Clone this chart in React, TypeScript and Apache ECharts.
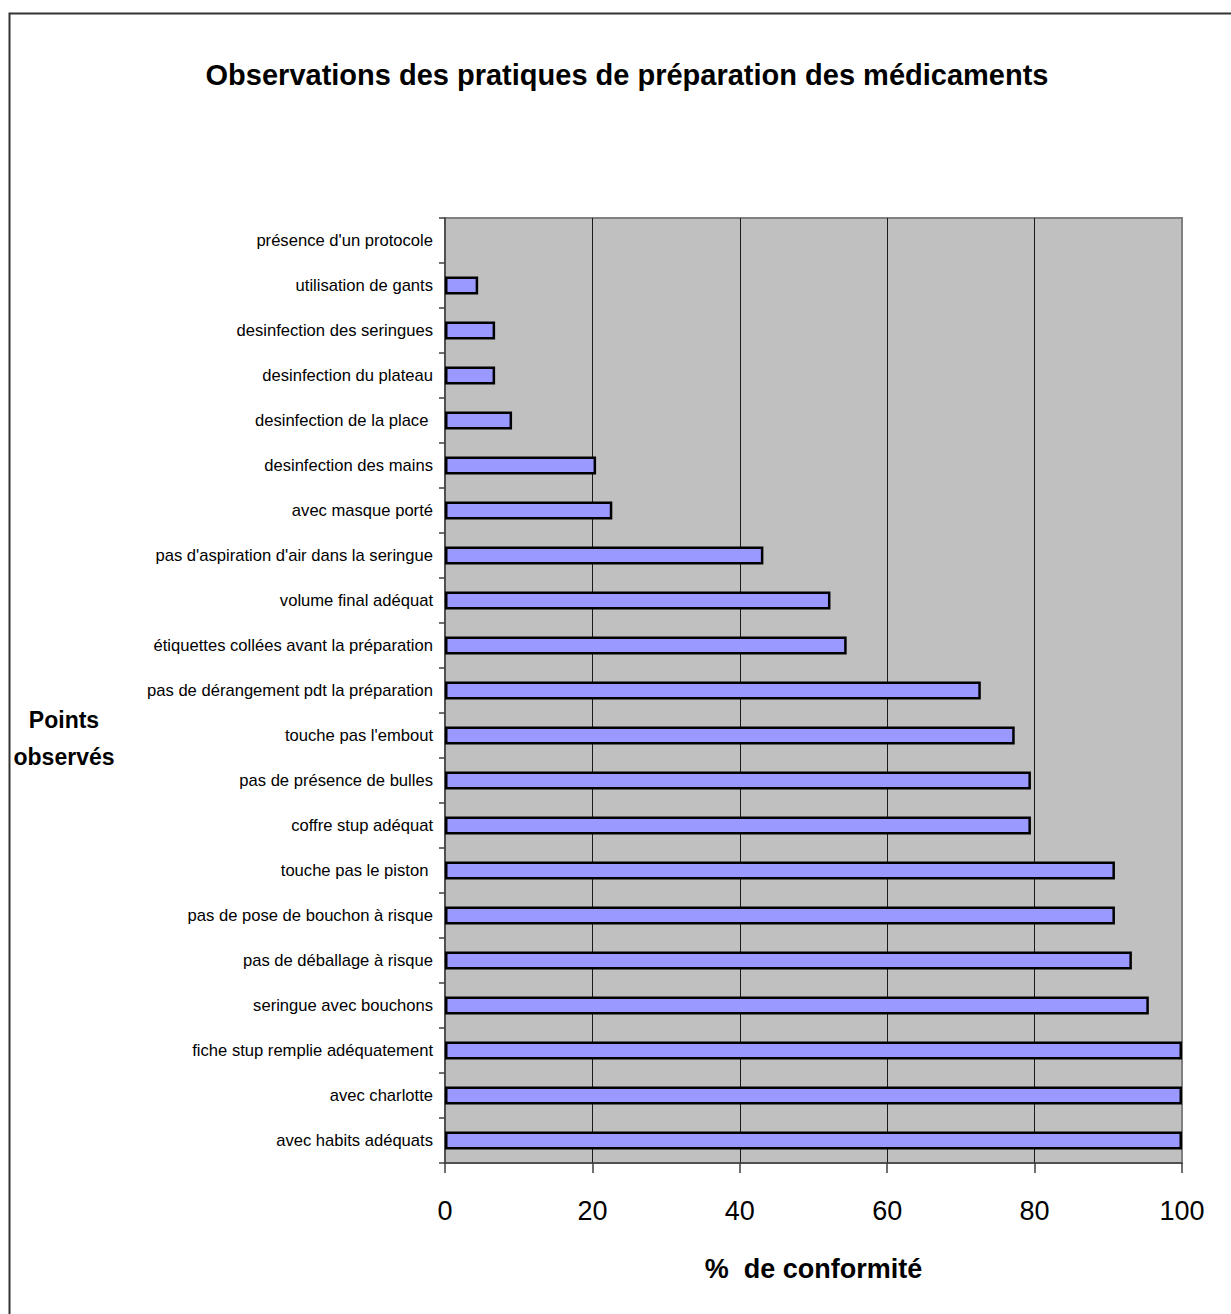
import React, { useEffect, useRef } from "react";
import * as echarts from "echarts";

const FONT = "'Liberation Sans', Arial, Helvetica, sans-serif";

const titleText = "Observations des pratiques de préparation des médicaments";
const xAxisTitle = "%  de conformité";
const yAxisTitle = "Points\nobservés";

// bottom to top
const categories = [
  "avec habits adéquats",
  "avec charlotte",
  "fiche stup remplie adéquatement",
  "seringue avec bouchons",
  "pas de déballage à risque",
  "pas de pose de bouchon à risque",
  "touche pas le piston ",
  "coffre stup adéquat",
  "pas de présence de bulles",
  "touche pas l'embout",
  "pas de dérangement pdt la préparation",
  "étiquettes collées avant la préparation",
  "volume final adéquat",
  "pas d'aspiration d'air dans la seringue",
  "avec masque porté",
  "desinfection des mains",
  "desinfection de la place ",
  "desinfection du plateau",
  "desinfection des seringues",
  "utilisation de gants",
  "présence d'un protocole",
];

const values = [
  100, 100, 100, 95.5, 93.2, 90.9, 90.9, 79.5, 79.5, 77.3, 72.7, 54.5, 52.3,
  43.2, 22.7, 20.5, 9.1, 6.8, 6.8, 4.5, 0,
];

const xMin = 0;
const xMax = 100;
const xStep = 20;

export default function App() {
  const ref = useRef<HTMLDivElement>(null);
  useEffect(() => {
    const chart = echarts.init(ref.current!, null, { renderer: "svg" });
    chart.setOption({
      animation: false,
      backgroundColor: "#ffffff",
      textStyle: { fontFamily: FONT },
      grid: {
        left: 445,
        right: 49,
        top: 218,
        bottom: 151,
        show: true,
        backgroundColor: "#C0C0C0",
        borderColor: "#808080",
        borderWidth: 2,
      },
      xAxis: {
        type: "value",
        min: xMin,
        max: xMax,
        interval: xStep,
        axisLine: { show: true, lineStyle: { color: "#404040", width: 1.5 } },
        axisTick: { show: true, length: 10, lineStyle: { color: "#404040", width: 1.5 } },
        splitLine: {
          show: true,
          showMinLine: false,
          showMaxLine: false,
          lineStyle: { color: "#1a1a1a", width: 1 },
        },
        axisLabel: { fontSize: 27, color: "#000", margin: 34, fontFamily: FONT },
        name: xAxisTitle,
        nameLocation: "middle",
        nameGap: 92,
        nameTextStyle: { fontSize: 27, fontWeight: "bold", color: "#000", fontFamily: FONT },
      },
      yAxis: {
        type: "category",
        data: categories,
        axisLine: { show: true, lineStyle: { color: "#404040", width: 1.5 } },
        axisTick: { show: true, length: 6, lineStyle: { color: "#404040", width: 1.5 } },
        splitLine: { show: false },
        axisLabel: { fontSize: 16.6, color: "#000", margin: 12, fontFamily: FONT },
      },
      series: [
        {
          type: "bar",
          data: values.map((v) =>
            v === 0 ? { value: v, itemStyle: { borderWidth: 0 } } : v
          ),
          barWidth: 18,
          itemStyle: { color: "#9999FF", borderColor: "#000", borderWidth: 2.5 },
        },
      ],
      graphic: [
        {
          type: "rect",
          silent: true,
          shape: { x: 9.5, y: 13.5, width: 1500, height: 1600 },
          style: { fill: "none", stroke: "#333", lineWidth: 2 },
        },
        {
          type: "text",
          x: 627,
          y: 75,
          style: {
            text: titleText,
            fontSize: 29,
            fontWeight: "bold",
            fontFamily: FONT,
            fill: "#000",
            align: "center",
            verticalAlign: "middle",
          },
        },
        {
          type: "text",
          x: 64,
          y: 738,
          style: {
            text: yAxisTitle,
            fontSize: 23,
            fontWeight: "bold",
            fontFamily: FONT,
            lineHeight: 37,
            fill: "#000",
            align: "center",
            verticalAlign: "middle",
          },
        },
      ],
    });
    return () => chart.dispose();
  }, []);
  return (
    <div
      ref={ref}
      style={{ position: "absolute", left: 0, top: 0, width: 1231, height: 1314, background: "#fff" }}
    />
  );
}
